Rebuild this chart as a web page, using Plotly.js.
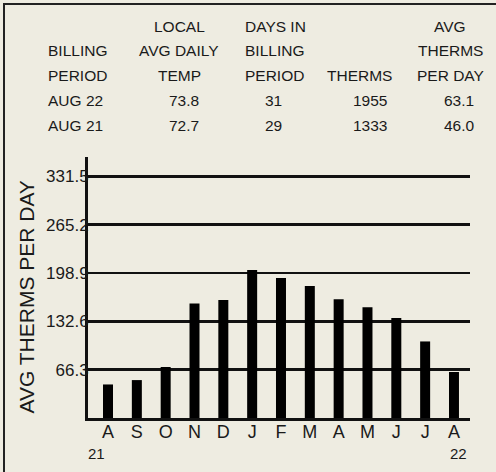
<!DOCTYPE html>
<html>
<head>
<meta charset="utf-8">
<script src="https://cdn.plot.ly/plotly-3.0.1.min.js"></script>
<style>html,body{margin:0;padding:0;background:#EEECE1;}#chart{width:496px;height:472px;}</style>
</head>
<body>
<div id="chart"></div>
<script>
const months = ['A','S','O','N','D','J','F','M','A','M','J','J','A'];
const avgThermsPerDay = [46.0, 52, 70, 157, 162, 203, 192, 181, 163, 152, 137, 105, 63.1];
const yTickVals = [66.3, 132.6, 198.9, 265.2, 331.5];
const yTickText = ['66.3', '132.6', '198.9', '265.2', '331.5'];
const yearLabels = ['21', '22'];
const tableHeaders = [
  ['', 'BILLING', 'PERIOD'],
  ['LOCAL', 'AVG DAILY', 'TEMP'],
  ['DAYS IN', 'BILLING', 'PERIOD'],
  ['', '', 'THERMS'],
  ['AVG', 'THERMS', 'PER DAY']
];
const tableRows = [
  ['AUG 22', '73.8', '31', '1955', '63.1'],
  ['AUG 21', '72.7', '29', '1333', '46.0']
];

// layout geometry (pixels)
const W = 496, H = 472;
const L = 88, R = 26, T = 157, B = 54;
const PW = W - L - R, PH = H - T - B;
const px = x => (x - L) / PW;
const py = y => (H - B - y) / PH;

const colHead = [{x: 46, a: 'left'}, {x: 179, a: 'center'}, {x: 243, a: 'left'}, {x: 359.5, a: 'center'}, {x: 450, a: 'center'}];
const colVal = [{x: 46, a: 'left'}, {x: 183.5, a: 'center'}, {x: 273.5, a: 'center'}, {x: 370, a: 'center'}, {x: 459, a: 'center'}];
const headRowY = [26.2, 50.5, 75.8];
const valRowY = [100.8, 125];

const txtFont = {family: 'Arial, Liberation Sans, sans-serif', size: 15.5, color: '#1a1a1a'};
const annotations = [];
tableHeaders.forEach((col, c) => {
  col.forEach((t, r) => {
    if (!t) return;
    annotations.push({xref: 'paper', yref: 'paper', x: px(colHead[c].x), y: py(headRowY[r]),
      xanchor: colHead[c].a, yanchor: 'middle', text: t, showarrow: false, font: txtFont});
  });
});
tableRows.forEach((row, r) => {
  row.forEach((t, c) => {
    annotations.push({xref: 'paper', yref: 'paper', x: px(colVal[c].x), y: py(valRowY[r]),
      xanchor: colVal[c].a, yanchor: 'middle', text: t, showarrow: false, font: txtFont});
  });
});
// year labels under first and last month
[[0, 96.7], [months.length - 1, 458]].forEach((p, i) => {
  annotations.push({xref: 'paper', yref: 'paper', x: px(p[1]), y: py(453), xanchor: 'center', yanchor: 'middle',
    text: yearLabels[i], showarrow: false, font: {family: 'Arial, Liberation Sans, sans-serif', size: 15, color: '#1a1a1a'}});
});
// y axis title
annotations.push({xref: 'paper', yref: 'paper', x: px(26), y: py(297.5), xanchor: 'center', yanchor: 'middle',
  text: 'AVG THERMS PER DAY', textangle: -90, showarrow: false,
  font: {family: 'Arial, Liberation Sans, sans-serif', size: 21, color: '#1a1a1a'}});

const xIdx = months.map((m, i) => i);

const data = [{
  type: 'bar', x: xIdx, y: avgThermsPerDay, width: 0.347,
  marker: {color: '#000000', line: {width: 0}}, hoverinfo: 'none'
}];

const layout = {
  width: W, height: H,
  margin: {l: L, r: R, t: T, b: B, pad: 0},
  paper_bgcolor: '#EEECE1', plot_bgcolor: '#EEECE1',
  showlegend: false,
  xaxis: {range: [-0.694, 12.556], tickvals: xIdx, ticktext: months, showgrid: false, zeroline: false,
    showline: true, linecolor: '#111', linewidth: 3, ticks: '', ticklabelstandoff: -5,
    tickfont: {family: 'Arial, Liberation Sans, sans-serif', size: 18, color: '#1a1a1a'}, fixedrange: true},
  yaxis: {range: [0, 358], tickvals: yTickVals, ticktext: yTickText, showgrid: true, gridcolor: '#111', gridwidth: 2.5,
    zeroline: false, showline: true, linecolor: '#111', linewidth: 3, ticks: '', ticklabelstandoff: -7,
    tickfont: {family: 'Arial, Liberation Sans, sans-serif', size: 17, color: '#1a1a1a'}, fixedrange: true},
  annotations: annotations,
  shapes: [{type: 'rect', xref: 'paper', yref: 'paper', x0: px(4), x1: px(520), y0: py(4), y1: py(500),
    line: {color: '#222', width: 2}, fillcolor: 'rgba(0,0,0,0)'}]
};

Plotly.newPlot('chart', data, layout, {staticPlot: true, displayModeBar: false});
</script>
</body>
</html>
